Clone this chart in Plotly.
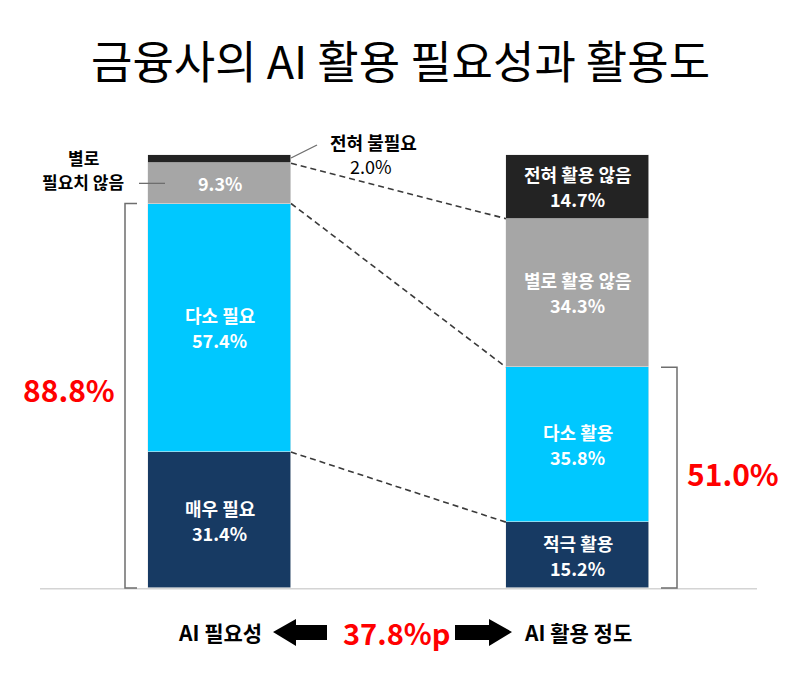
import plotly.graph_objects as go

W, H = 800, 677
FONT = "Noto Sans CJK KR"

# ---- data ----
categories = ["AI 필요성", "AI 활용 정도"]
left_labels = ["매우 필요", "다소 필요", "별로 필요치 않음", "전혀 불필요"]
left_values = [31.4, 57.4, 9.3, 2.0]
right_labels = ["적극 활용", "다소 활용", "별로 활용 않음", "전혀 활용 않음"]
right_values = [15.2, 35.8, 34.3, 14.7]
colors = ["#173a63", "#00c8ff", "#a6a6a6", "#232323"]
left_total = 88.8
right_total = 51.0
gap_label = "37.8%p"
title_text = "금융사의 AI 활용 필요성과 활용도"

# ---- geometry (pixel layout) ----
BASE_PX, TOP_PX = 588, 155
PPU = (BASE_PX - TOP_PX) / 100.0  # pixels per percent
C0_PX, C1_PX = 219.5, 577.5
CAT_PX = C1_PX - C0_PX
BAR_W = 143 / CAT_PX
x_lo = -C0_PX / CAT_PX
x_hi = x_lo + W / CAT_PX
y_lo = -(H - BASE_PX) / PPU
y_hi = BASE_PX / PPU


def xd(px):
    return px / CAT_PX + x_lo


def px2paper(px, py):
    return px / W, 1 - py / H


fig = go.Figure()
for i in range(4):
    fig.add_trace(go.Bar(
        x=categories, y=[left_values[i], right_values[i]],
        width=BAR_W, marker=dict(color=colors[i], line=dict(width=0.6, color="#e8e8e8")),
        showlegend=False, hoverinfo="skip",
    ))

annotations = []
shapes = []


def cum(vals, n):
    return sum(vals[:n])


LBL = dict(family=FONT, size=18, color="white", weight="bold")


def seg_label(xc, y, name, value):
    if name:
        annotations.append(dict(x=xc, y=y, xref="x", yref="y", text=name, showarrow=False,
                                font=LBL, yshift=12.5, yanchor="middle"))
        annotations.append(dict(x=xc, y=y, xref="x", yref="y", text=f"{value:.1f}%", showarrow=False,
                                font=LBL, yshift=-12.5, yanchor="middle"))
    else:
        annotations.append(dict(x=xc, y=y, xref="x", yref="y", text=f"{value:.1f}%", showarrow=False,
                                font=LBL, yanchor="middle"))


# segment labels inside bars
for i in range(3):
    y = cum(left_values, i) + left_values[i] / 2
    seg_label(0, y, left_labels[i] if i < 2 else None, left_values[i])
for i in range(4):
    y = cum(right_values, i) + right_values[i] / 2
    seg_label(1, y, right_labels[i], right_values[i])

# dashed connectors
half = BAR_W / 2
for ly, ry in [(cum(left_values, 3), cum(right_values, 3)),
               (cum(left_values, 2), cum(right_values, 2)),
               (cum(left_values, 1), cum(right_values, 1))]:
    shapes.append(dict(type="line", xref="x", yref="y", x0=half, y0=ly, x1=1 - half, y1=ry,
                       line=dict(color="#3a3a3a", width=1.6, dash="6px,4px")))

# baseline
shapes.append(dict(type="line", xref="x", yref="y", x0=xd(40), x1=xd(757), y0=-0.2, y1=-0.2,
                   line=dict(color="#d4d4d4", width=1.5), layer="below"))


# brackets
def bracket(x_out, x_in, y0, y1):
    return dict(type="path", xref="x", yref="y",
                path=f"M {x_in},{y1} L {x_out},{y1} L {x_out},{y0} L {x_in},{y0}",
                line=dict(color="#6e6e6e", width=1.5))


shapes.append(bracket(xd(125), xd(137), 0, left_total))
shapes.append(bracket(xd(677), xd(661), 0, right_total))

# leader lines for outside labels
shapes.append(dict(type="line", xref="x", yref="y", x0=half, y0=99.3, x1=xd(317), y1=(BASE_PX - 145) / PPU,
                   line=dict(color="#6e6e6e", width=1.3)))
mid_l2 = cum(left_values, 2) + left_values[2] / 2
shapes.append(dict(type="line", xref="x", yref="y", x0=xd(139), x1=xd(165), y0=mid_l2, y1=mid_l2,
                   line=dict(color="#6e6e6e", width=1.3)))


def ann_px(px, py, text, size, color="black", weight="bold", xanchor="center"):
    x, y = px2paper(px, py)
    annotations.append(dict(x=x, y=y, xref="paper", yref="paper", text=text, showarrow=False,
                            xanchor=xanchor, yanchor="middle",
                            font=dict(family=FONT, size=size, color=color, weight=weight)))


ann_px(400, 60, title_text, 45, weight="normal")
ann_px(83, 157, "별로", 17)
ann_px(83, 182, "필요치 않음", 17)
ann_px(373, 142, "전혀 불필요", 18)
ann_px(371, 166, f"{left_values[3]:.1f}%", 18, weight="normal")
ann_px(69, 389, f"{left_total:.1f}%", 30, color="#ff0000")
ann_px(733, 473, f"{right_total:.1f}%", 30, color="#ff0000")
ann_px(220, 632, categories[0], 21)
ann_px(578, 632, categories[1], 21)
ann_px(396, 632, gap_label, 29, color="#ff0000")


def path_px(points):
    pts = [px2paper(x, y) for x, y in points]
    return "M " + " L ".join(f"{x},{y}" for x, y in pts) + " Z"


# block arrows
shapes.append(dict(type="path", xref="paper", yref="paper", fillcolor="black", line=dict(width=0),
                   path=path_px([(273, 632), (296, 619), (296, 625), (327, 625), (327, 640), (296, 640), (296, 646)])))
shapes.append(dict(type="path", xref="paper", yref="paper", fillcolor="black", line=dict(width=0),
                   path=path_px([(512, 632), (489, 619), (489, 625), (455, 625), (455, 640), (489, 640), (489, 646)])))

fig.update_layout(
    width=W, height=H, margin=dict(l=0, r=0, t=0, b=0),
    paper_bgcolor="white", plot_bgcolor="white",
    barmode="stack", bargap=0,
    xaxis=dict(range=[x_lo, x_hi], visible=False, type="category", categoryorder="array", categoryarray=categories),
    yaxis=dict(range=[y_lo, y_hi], visible=False),
    annotations=annotations, shapes=shapes,
    showlegend=False,
)

fig.write_html("out.html")
